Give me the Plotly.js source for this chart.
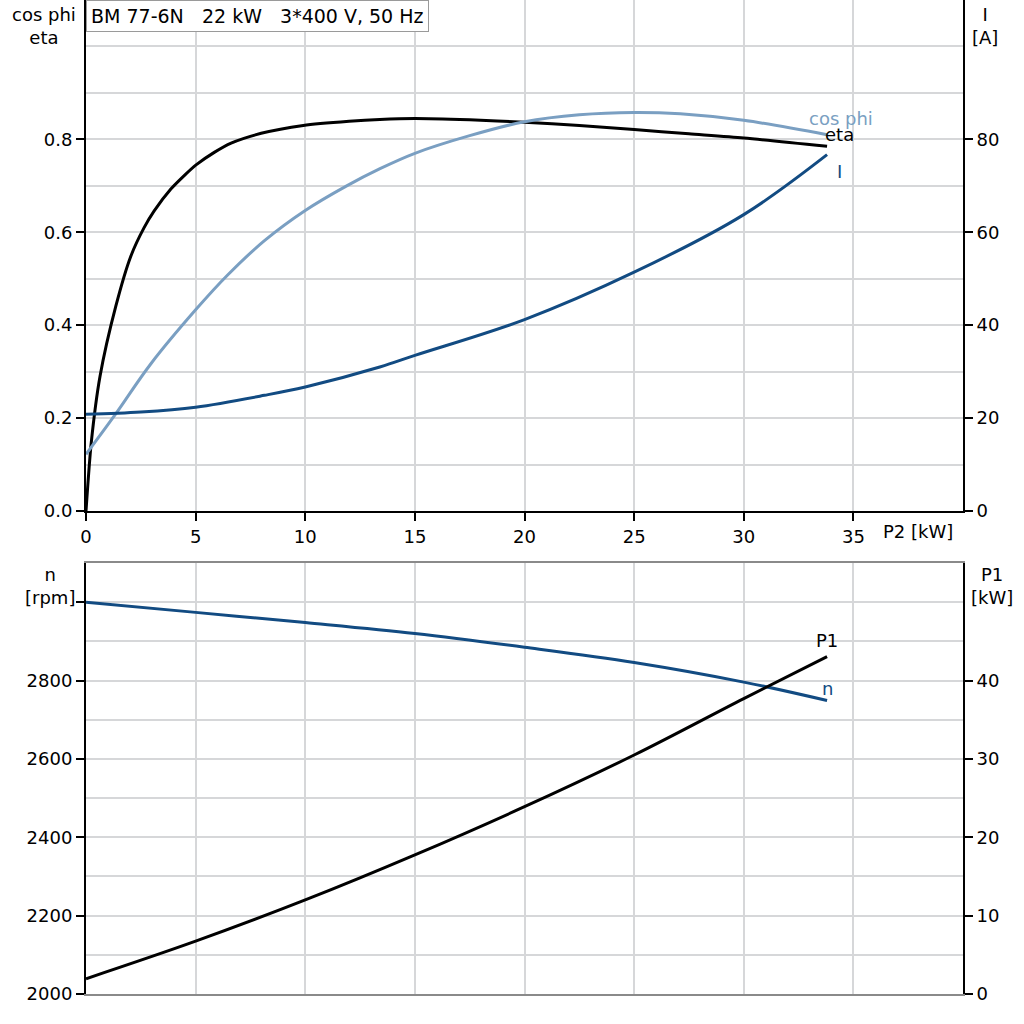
<!DOCTYPE html>
<html><head><meta charset="utf-8">
<script src="https://cdn.plot.ly/plotly-3.0.1.min.js"></script>
<style>html,body{margin:0;padding:0;background:#fff}#chart{width:1024px;height:1024px}</style>
</head><body><div id="chart"></div>
<script>
// ---- data ----
const titleText = "BM 77-6N&nbsp;&nbsp; 22 kW&nbsp;&nbsp; 3*400 V, 50 Hz";
const etaP2 = [0, 0.24, 0.64, 1.36, 2.04, 2.65, 3.11, 3.87, 4.48, 5.02, 5.85, 6.62, 7.99, 9.91, 12, 13.4, 15, 17.5, 20, 22.5, 25, 27.5, 30, 33.8];
const etaVal = [0, 0.147, 0.290, 0.441, 0.548, 0.610, 0.646, 0.693, 0.722, 0.745, 0.772, 0.792, 0.813, 0.830, 0.839, 0.843, 0.845, 0.842, 0.837, 0.830, 0.821, 0.812, 0.803, 0.785];
const cosP2 = [0, 1.28, 2.96, 5.0, 6.46, 8.14, 10, 11.89, 13.41, 15, 17.5, 20, 22.5, 25, 27.1, 30, 33.8];
const cosVal = [0.122, 0.204, 0.317, 0.433, 0.508, 0.582, 0.647, 0.700, 0.737, 0.770, 0.808, 0.838, 0.853, 0.858, 0.855, 0.841, 0.810];
const iP2 = [0, 2.5, 5, 8.14, 10, 13.4, 15, 20, 25, 30, 33.8];
const iVal = [20.8, 21.3, 22.35, 24.9, 26.7, 31.0, 33.5, 41.2, 51.4, 63.8, 76.7];
const lowP2 = [0, 5, 10, 15, 20, 25, 30, 33.8];
const nVal = [3000, 2974, 2948, 2920, 2885, 2846, 2796, 2749];
const p1Val = [1.95, 6.74, 12.0, 17.75, 23.9, 30.5, 37.7, 43.05];
const xTicks = [0, 5, 10, 15, 20, 25, 30, 35];
const effTicks = [0, 0.2, 0.4, 0.6, 0.8];
const iTicks = [0, 20, 40, 60, 80];
const nTicks = [2000, 2200, 2400, 2600, 2800, 3000];
const nTickText = ["2000", "2200", "2400", "2600", "2800", ""];
const p1Ticks = [0, 10, 20, 30, 40];

// ---- styles ----
const FONT = "DejaVu Sans, Verdana, sans-serif";
const BLACK = "#000000", LIGHT = "#7a9fc2", DARK = "#124b82", GRID = "#d6d7d9";
const last = a => a[a.length - 1];
const FS = 18;
const GW = 2;

const traces = [
  {x: etaP2, y: etaVal, xaxis: "x", yaxis: "y", mode: "lines", line: {color: BLACK, width: 3, shape: "spline", smoothing: 0.7}},
  {x: cosP2, y: cosVal, xaxis: "x", yaxis: "y", mode: "lines", line: {color: LIGHT, width: 3, shape: "spline", smoothing: 1}},
  {x: iP2, y: iVal, xaxis: "x", yaxis: "y2", mode: "lines", line: {color: DARK, width: 3, shape: "spline", smoothing: 1}},
  {x: lowP2, y: nVal, xaxis: "x2", yaxis: "y3", mode: "lines", line: {color: DARK, width: 3, shape: "spline", smoothing: 1}},
  {x: lowP2, y: p1Val, xaxis: "x2", yaxis: "y4", mode: "lines", line: {color: BLACK, width: 3, shape: "spline", smoothing: 1}}
];

const dom = [86/1024, 963/1024];
const topDom = [1 - 511/1024, 1];
const botDom = [1 - 994/1024, 1 - 563/1024];
const tf = {family: FONT, size: FS, color: "#000"};

const layout = {
  width: 1024, height: 1024,
  margin: {l: 0, r: 0, t: 0, b: 0},
  paper_bgcolor: "#fff", plot_bgcolor: "#fff",
  showlegend: false,
  font: tf,
  xaxis: {domain: dom, anchor: "y", range: [0, 40], tickmode: "array", tickvals: xTicks,
    showgrid: true, gridcolor: GRID, gridwidth: GW, zeroline: false,
    showline: true, linecolor: BLACK, linewidth: 2, mirror: true,
    ticks: "outside", ticklen: 8, tickwidth: 2, tickcolor: BLACK, tickfont: tf},
  yaxis: {domain: topDom, anchor: "x", range: [0, 1.1], tickmode: "array", tickvals: effTicks,
    tickformat: ".1f", showgrid: true, gridcolor: GRID, gridwidth: GW, zeroline: false,
    minor: {dtick: 0.1, tick0: 0, showgrid: true, gridcolor: GRID, gridwidth: GW, ticks: ""},
    showline: true, linecolor: BLACK, linewidth: 2,
    ticks: "outside", ticklen: 8, tickwidth: 2, tickcolor: BLACK, tickfont: tf},
  yaxis2: {overlaying: "y", side: "right", anchor: "x", range: [0, 110], tickmode: "array", tickvals: iTicks,
    showgrid: false, zeroline: false, showline: true, linecolor: BLACK, linewidth: 2,
    ticks: "outside", ticklen: 8, tickwidth: 2, tickcolor: BLACK, tickfont: tf},
  xaxis2: {domain: dom, anchor: "y3", range: [0, 40], tickmode: "array", tickvals: xTicks,
    showticklabels: false, ticks: "",
    showgrid: true, gridcolor: GRID, gridwidth: GW, zeroline: false,
    showline: true, linecolor: "#8a8a8a", linewidth: 2, mirror: true},
  yaxis3: {domain: botDom, anchor: "x2", range: [2000, 3100], tickmode: "array", tickvals: nTicks, ticktext: nTickText,
    showgrid: true, gridcolor: GRID, gridwidth: GW, zeroline: false,
    minor: {dtick: 100, tick0: 2000, showgrid: true, gridcolor: GRID, gridwidth: GW, ticks: ""},
    showline: true, linecolor: BLACK, linewidth: 2,
    ticks: "outside", ticklen: 8, tickwidth: 2, tickcolor: BLACK, tickfont: tf},
  yaxis4: {overlaying: "y3", side: "right", anchor: "x2", range: [0, 55], tickmode: "array", tickvals: p1Ticks,
    showgrid: false, zeroline: false, showline: true, linecolor: BLACK, linewidth: 2,
    ticks: "outside", ticklen: 8, tickwidth: 2, tickcolor: BLACK, tickfont: tf},
  annotations: [
    {xref: "paper", yref: "paper", x: 86/1024, y: 1, xanchor: "left", yanchor: "top",
     text: titleText, showarrow: false, font: {family: FONT, size: 19, color: "#000"},
     bgcolor: "#fff", bordercolor: "#9a9a9a", borderwidth: 1, borderpad: 4},
    {xref: "paper", yref: "paper", x: 44/1024, y: 1 - 2/1024, xanchor: "center", yanchor: "top",
     text: "cos phi<br>eta", showarrow: false, font: tf},
    {xref: "paper", yref: "paper", x: 985/1024, y: 1 - 2/1024, xanchor: "center", yanchor: "top",
     text: "I<br>[A]", showarrow: false, font: tf},
    {xref: "paper", yref: "paper", x: 918/1024, y: 1 - 531/1024, xanchor: "center", yanchor: "middle",
     text: "P2 [kW]", showarrow: false, font: tf},
    {xref: "paper", yref: "paper", x: 50/1024, y: 1 - 562/1024, xanchor: "center", yanchor: "top",
     text: "n<br>[rpm]", showarrow: false, font: tf},
    {xref: "paper", yref: "paper", x: 992/1024, y: 1 - 562/1024, xanchor: "center", yanchor: "top",
     text: "P1<br>[kW]", showarrow: false, font: tf},
    {xref: "x", yref: "y", x: last(cosP2), y: last(cosVal), xshift: 14, yshift: 16, showarrow: false,
     text: "cos phi", font: {family: FONT, size: FS, color: LIGHT}},
    {xref: "x", yref: "y", x: last(etaP2), y: last(etaVal), xshift: 12, yshift: 12, showarrow: false,
     text: "eta", font: {family: FONT, size: FS, color: BLACK}},
    {xref: "x", yref: "y2", x: last(iP2), y: last(iVal), xshift: 12, yshift: -17, showarrow: false,
     text: "I", font: {family: FONT, size: FS, color: DARK}},
    {xref: "x2", yref: "y4", x: last(lowP2), y: last(p1Val), xshift: 0, yshift: 16, showarrow: false,
     text: "P1", font: {family: FONT, size: FS, color: BLACK}},
    {xref: "x2", yref: "y3", x: last(lowP2), y: last(nVal), xshift: 0, yshift: 12, showarrow: false,
     text: "n", font: {family: FONT, size: FS, color: DARK}}
  ]
};

Plotly.newPlot("chart", traces, layout, {staticPlot: true, displayModeBar: false});
</script></body></html>
